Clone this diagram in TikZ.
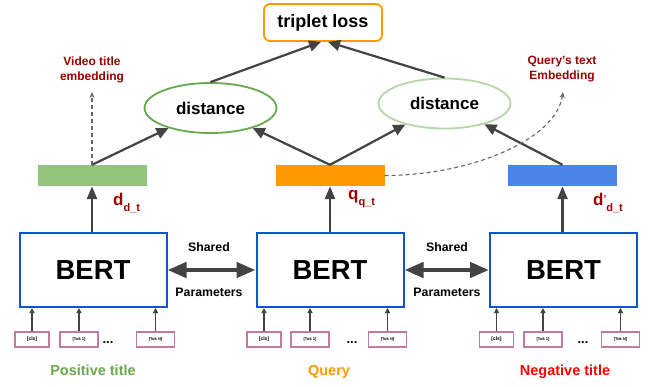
\documentclass[tikz,border=0pt]{standalone}
\usepackage{fontspec}
\setmainfont{Liberation Sans}
\usetikzlibrary{positioning,arrows.meta,shapes.geometric,calc}
\definecolor{arrowgray}{HTML}{434343}
\definecolor{bertblue}{HTML}{1155CC}
\definecolor{posgreen}{HTML}{6AA84F}
\definecolor{palegreen}{HTML}{B6D7A8}
\definecolor{bargreen}{HTML}{93C47D}
\definecolor{barorange}{HTML}{FF9900}
\definecolor{barblue}{HTML}{4A86E8}
\definecolor{tokpink}{HTML}{C27BA0}
\definecolor{notered}{HTML}{990000}
\tikzset{
  bert/.style={draw=bertblue, line width=2pt, minimum width=147pt, minimum height=74pt,
               inner sep=0pt, font=\fontsize{27.5}{30}\selectfont\bfseries},
  emb/.style={minimum width=109pt, minimum height=21pt, inner sep=0pt},
  dist/.style={ellipse, line width=1.8pt, minimum width=132pt, minimum height=50pt,
               inner sep=0pt, font=\fontsize{17}{20}\selectfont\bfseries},
  tok/.style={draw=tokpink, line width=1.8pt, minimum height=15.5pt, inner sep=0pt,
              font=\fontsize{5}{6}\selectfont\bfseries},
  note/.style={text=notered, align=center, font=\fontsize{12}{15}\selectfont\bfseries},
  vec/.style={text=notered, font=\fontsize{17}{20}\selectfont\bfseries, inner sep=0pt},
  share/.style={font=\fontsize{12.3}{14}\selectfont\bfseries, inner sep=0pt},
  title/.style={font=\fontsize{14.5}{16}\selectfont\bfseries, inner sep=0pt},
  flow/.style={draw=arrowgray, line width=2.2pt, -{Triangle[length=12pt,width=11pt]}},
  upflow/.style={draw=arrowgray, line width=2.6pt, -{Triangle[length=13pt,width=10pt]}},
  tokflow/.style={draw=arrowgray, line width=1.2pt, -{Triangle[length=5pt,width=5pt]}},
  params/.style={draw=arrowgray, line width=4.4pt,
                 {Triangle[length=19pt,width=15pt]}-{Triangle[length=19pt,width=15pt]}},
  hint/.style={draw=black!60, line width=1.1pt, dash pattern=on 4pt off 3pt,
               -{Stealth[length=6pt,width=5pt]}},
}
\begin{document}
\begin{tikzpicture}[x=1pt,y=-1pt]
\useasboundingbox[fill=white] (0,0) rectangle (650,386);
\node[draw=barorange, line width=1.8pt, rounded corners=6pt, minimum width=118pt,
  minimum height=37pt, font=\fontsize{18}{20}\selectfont\bfseries] (loss) at (323,22.5) {triplet loss};
\node[dist, draw=posgreen] (dist1) at (210.5,108) {distance};
\node[dist, draw=palegreen] (dist2) at (444.5,103.5) {distance};
\node[emb, fill=bargreen] (pos) at (92,175.5) {};
\node[emb, fill=barorange] (qry) at (330,175.5) {};
\node[emb, fill=barblue] (neg) at (562.5,175.5) {};
\node[bert] (bertP) at (93,270) {BERT};
\node[bert] (bertQ) at (330,270) {BERT};
\node[bert] (bertN) at (563.5,270) {BERT};
\node[vec, anchor=base west] (vecP) at (113,205) {d\raisebox{-6pt}{\fontsize{11}{12}\selectfont d\_t}};
\node[vec, anchor=base west] (vecQ) at (348,199) {q\raisebox{-6pt}{\fontsize{11}{12}\selectfont q\_t}};
\node[vec, anchor=base west] (vecN) at (593,205) {d\raisebox{3pt}{\fontsize{10}{12}\selectfont ’}\raisebox{-6pt}{\fontsize{11}{12}\selectfont d\_t}};
\node[share, anchor=base] (sh1) at (209,251) {Shared};
\node[share, anchor=base] (pa1) at (209,296) {Parameters};
\node[share, anchor=base] (sh2) at (447,251) {Shared};
\node[share, anchor=base] (pa2) at (447,296) {Parameters};
\node[title, anchor=base, text=posgreen] (nameP) at (93,375.5) {Positive title};
\node[title, anchor=base, text=barorange] (nameQ) at (329,375.5) {Query};
\node[title, anchor=base, text=red] (nameN) at (565,375.5) {Negative title};
\foreach \c/\a/\b/\d/\n in {P/32/79/108/155.5,Q/264/310/352/387.5,N/496.5/543/583/620.5} {
  \node[tok, minimum width=34pt] (cls\c) at (\a,339.5) {[cls]};
  \node[tok, minimum width=38pt, font=\fontsize{4}{5}\selectfont\bfseries] (one\c) at (\b,339.5) {[Tok 1]};
  \node[tok, minimum width=38pt, font=\fontsize{4}{5}\selectfont\bfseries] (last\c) at (\n,339.5) {[Tok N]};
  \node[font=\fontsize{13}{14}\selectfont\bfseries, anchor=base, inner sep=0pt] (dots\c) at (\d,343) {...};
  \foreach \t in {cls,one,last}
    \draw[tokflow] (\t\c.north) -- (\t\c.north |- bert\c.south);
}
\foreach \c/\e in {P/pos,Q/qry,N/neg}
  \draw[upflow] (\e.south |- bert\c.north) -- (\e.south);
\foreach \a/\b in {pos/dist1,qry/dist1,qry/dist2,neg/dist2}
  \draw[flow] (\a.north) -- (\b);
\draw[flow] (dist1.north) -- ([xshift=-2pt]loss.south);
\draw[flow] (dist2.north) -- ([xshift=5pt]loss.south);
\draw[params] (bertP.east) -- (bertQ.west);
\draw[params] (bertQ.east) -- (bertN.west);
% embedding callouts
\coordinate (vidtip) at (92,92);
\coordinate (qrytip) at (563,92);
\draw[hint] (pos.north) -- (vidtip);
\draw[hint] (qry.east) .. controls (470,175.5) and (556,140) .. (qrytip);
\node[note] (vidnote) at (92,69.5) {Video title\\embedding};
\node[note] (qrynote) at (562,69.5) {Query’s text\\Embedding};
\end{tikzpicture}
\end{document}
